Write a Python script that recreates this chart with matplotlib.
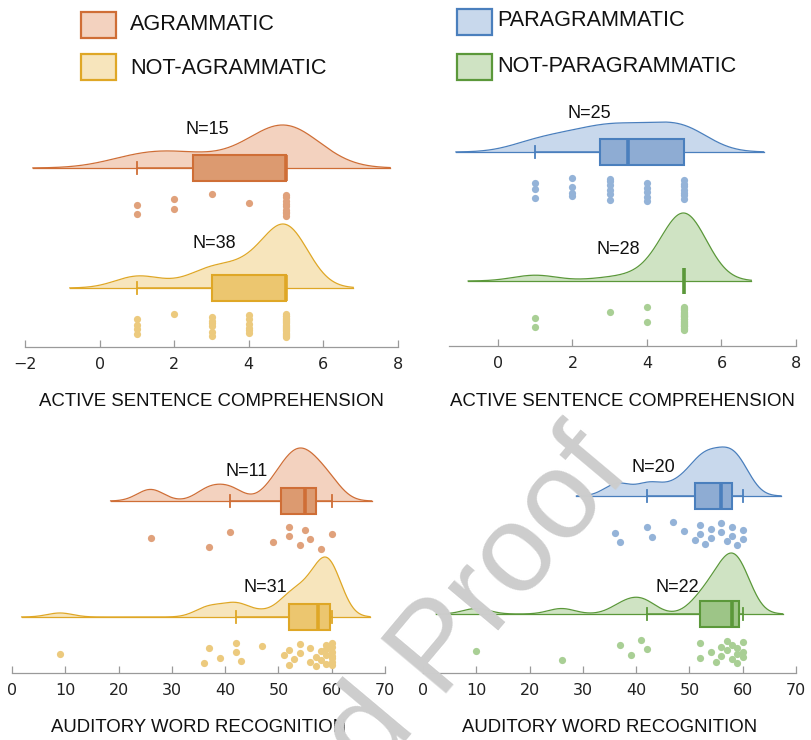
import numpy as np
import matplotlib
matplotlib.use("Agg")
import matplotlib.pyplot as plt
from matplotlib.patches import Rectangle

W, H = 812, 740
SANS = ["Liberation Sans", "DejaVu Sans"]

# ---------------- scores ----------------
# Active sentence comprehension (0-5)
agr_active = [1, 1, 2, 2, 3, 4, 5, 5, 5, 5, 5, 5, 5, 5, 5]
notagr_active = [1, 1, 1, 1, 2, 3, 3, 3, 3, 3, 3, 4, 4, 4, 4, 4, 4,
                 5, 5, 5, 5, 5, 5, 5, 5, 5, 5, 5, 5, 5, 5, 5, 5, 5, 5, 5, 5, 5]
para_active = [1, 1, 1, 2, 2, 2, 2, 3, 3, 3, 3, 3, 3, 4, 4, 4, 4, 4,
               5, 5, 5, 5, 5, 5, 5]
notpara_active = [1, 1, 3, 4, 4, 5, 5, 5, 5, 5, 5, 5, 5, 5, 5, 5, 5, 5,
                  5, 5, 5, 5, 5, 5, 5, 5, 5, 5]

# Auditory word recognition (0-60)
agr_awr = [26, 37, 41, 49, 52, 52, 54, 55, 56, 58, 60]
notagr_awr = [9, 36, 37, 39, 42, 42, 43, 47, 51, 52, 52, 53, 54, 54, 56, 56,
              57, 57, 58, 58, 59, 59, 59, 59, 60, 60, 60, 60, 60, 60, 60]
para_awr = [36, 37, 42, 43, 47, 49, 51, 52, 52, 53, 54, 54, 56, 56, 57, 58,
            58, 59, 60, 60]
notpara_awr = [10, 26, 37, 39, 41, 42, 52, 52, 54, 55, 56, 56, 57, 57, 58, 58,
               59, 59, 59, 60, 60, 60]

# Box summaries: whisker low, Q1, median, Q3, whisker high
agr_active_box = [1, 2.5, 5, 5, 5]
notagr_active_box = [1, 3, 5, 5, 5]
para_active_box = [1, 2.75, 3.5, 5, 5]
notpara_active_box = [5, 5, 5, 5, 5]
agr_awr_box = [41, 50.5, 55, 57, 60]
notagr_awr_box = [42, 52, 57.5, 59.7, 60]
para_awr_box = [42, 51, 56, 58, 60]
notpara_awr_box = [42, 52, 58, 59.3, 60]

group_names = ["AGRAMMATIC", "NOT-AGRAMMATIC", "PARAGRAMMATIC", "NOT-PARAGRAMMATIC"]
active_ticks = [-2, 0, 2, 4, 6, 8]
awr_ticks = [0, 10, 20, 30, 40, 50, 60, 70]

# ---------------- styling ----------------
COLORS = {
    "AGRAMMATIC":        dict(edge="#cf6e36", fill="#f3d2bf", box="#dc9a70", pt="#e0a17b"),
    "NOT-AGRAMMATIC":    dict(edge="#dfa726", fill="#f7e5bc", box="#ecc66f", pt="#ecca7e"),
    "PARAGRAMMATIC":     dict(edge="#4a7fbd", fill="#c8d8ec", box="#8eacd3", pt="#94b3d8"),
    "NOT-PARAGRAMMATIC": dict(edge="#5b983a", fill="#cfe3c3", box="#9dc587", pt="#a9cf95"),
}
SPINE = "#9a9a9a"


def px_axes(fig, left, right, top, bottom):
    return fig.add_axes([left / W, 1 - bottom / H, (right - left) / W, (bottom - top) / H])


def kde(values, bw, grid):
    v = np.asarray(values, dtype=float)
    z = (grid[:, None] - v[None, :]) / bw
    return np.exp(-0.5 * z ** 2).sum(axis=1) / (len(v) * bw * np.sqrt(2 * np.pi))


def raincloud(ax, values, box, name, base, peak, bw, lab_x, lab_dy):
    c = COLORS[name]
    lo, hi = min(values) - 3 * bw, max(values) + 3 * bw
    grid = np.linspace(lo, hi, 500)
    d = kde(values, bw, grid)
    y = base + d / d.max() * peak
    ax.fill_between(grid, base, y, color=c["fill"], lw=0, zorder=1)
    ax.plot(grid, y, color=c["edge"], lw=0.9, zorder=2)
    ax.plot([lo, hi], [base, base], color=c["edge"], lw=0.9, zorder=2)

    stats = [dict(whislo=box[0], q1=box[1], med=box[2], q3=box[3],
                  whishi=box[4], fliers=[])]
    ax.bxp(stats, positions=[base], widths=26, orientation="horizontal",
           patch_artist=True, showfliers=False, manage_ticks=False,
           capwidths=12, zorder=3,
           boxprops=dict(facecolor=c["box"], edgecolor=c["edge"], linewidth=1.5),
           medianprops=dict(color=c["edge"], linewidth=2.6, solid_capstyle="butt"),
           whiskerprops=dict(color=c["edge"], linewidth=1.1),
           capprops=dict(color=c["edge"], linewidth=1.3))

    n = len(values)
    jitter = ((np.arange(n) * 0.618034 + 0.5) % 1.0 - 0.5) * 24
    ax.scatter(values, base - 37 + jitter, s=27, color=c["pt"], lw=0, zorder=2)

    ax.text(lab_x, base + lab_dy, f"N={n}", ha="center", va="center",
            fontsize=13, family=SANS, color="#111111", zorder=5)


def style_axis(ax, xlim, ticks, label, label_off, h_px, tick_fs):
    ax.set_xlim(*xlim)
    ax.set_ylim(0, h_px)
    for s in ("left", "top", "right"):
        ax.spines[s].set_visible(False)
    ax.spines["bottom"].set_color(SPINE)
    ax.spines["bottom"].set_linewidth(0.9)
    ax.set_yticks([])
    ax.set_xticks(ticks)
    ax.tick_params(axis="x", direction="in", length=5, width=0.9, color=SPINE,
                   labelsize=tick_fs, labelcolor="#222222", pad=7)
    ax.set_xlabel(label, fontsize=13.4, family=SANS, color="#111111", va="center")
    ax.xaxis.set_label_coords(0.5, -label_off / h_px)
    ax.patch.set_alpha(0)


fig = plt.figure(figsize=(W / 100, H / 100), dpi=100)

# ---- top-left: active sentence comprehension, agrammatic split ----
ax = px_axes(fig, 25, 398, 95, 347)
raincloud(ax, agr_active, agr_active_box, "AGRAMMATIC", 179, 43, 0.93, 2.9, 38)
raincloud(ax, notagr_active, notagr_active_box, "NOT-AGRAMMATIC", 59, 64, 0.6, 3.08, 44)
style_axis(ax, (-2, 8), active_ticks, "ACTIVE SENTENCE COMPREHENSION", 55, 252, 11.5)

# ---- top-right: active sentence comprehension, paragrammatic split ----
ax = px_axes(fig, 449, 796, 95, 346)
raincloud(ax, para_active, para_active_box, "PARAGRAMMATIC", 194, 30, 0.71, 2.44, 39)
raincloud(ax, notpara_active, notpara_active_box, "NOT-PARAGRAMMATIC", 65, 68, 0.6, 3.22, 32)
style_axis(ax, (-49 / 37.25, 8), active_ticks[1:], "ACTIVE SENTENCE COMPREHENSION", 56, 251, 11.5)

# ---- bottom-left: auditory word recognition, agrammatic split ----
ax = px_axes(fig, 12, 385, 430, 673)
raincloud(ax, agr_awr, agr_awr_box, "AGRAMMATIC", 172, 53, 2.5, 44.1, 29)
raincloud(ax, notagr_awr, notagr_awr_box, "NOT-AGRAMMATIC", 56, 60, 2.4, 47.5, 30)
style_axis(ax, (0, 70), awr_ticks, "AUDITORY WORD RECOGNITION", 54, 243, 11.5)

# ---- bottom-right: auditory word recognition, paragrammatic split ----
ax = px_axes(fig, 423, 796, 430, 673)
raincloud(ax, para_awr, para_awr_box, "PARAGRAMMATIC", 177, 49, 2.4, 43.2, 28)
raincloud(ax, notpara_awr, notpara_awr_box, "NOT-PARAGRAMMATIC", 59, 61, 2.5, 47.8, 27)
style_axis(ax, (0, 70), awr_ticks, "AUDITORY WORD RECOGNITION", 54, 243, 11.5)

# ---- legend ----
legend_pos = {  # square left, square top, text left, text centre (pixels)
    "AGRAMMATIC": (81, 12, 130, 24),
    "NOT-AGRAMMATIC": (81, 54, 130, 68),
    "PARAGRAMMATIC": (457, 9, 497, 21),
    "NOT-PARAGRAMMATIC": (457, 54, 497, 67),
}
for name in group_names:
    sx, sy, tx, ty = legend_pos[name]
    c = COLORS[name]
    fig.patches.append(Rectangle((sx / W, 1 - (sy + 26) / H), 35 / W, 26 / H,
                                 transform=fig.transFigure, facecolor=c["fill"],
                                 edgecolor=c["edge"], linewidth=1.6))
    fig.text(tx / W, 1 - ty / H, name, ha="left", va="center", fontsize=15.6,
             family=SANS, color="#111111")

# ---- watermark ----
fig.text(632 / W, 1 - 472 / H, "Uncorrected Proof", rotation=50,
         rotation_mode="anchor", ha="right", va="baseline", fontsize=90,
         family=SANS, color="#cdcdcd", zorder=10)

fig.savefig("out.png", dpi=100)
